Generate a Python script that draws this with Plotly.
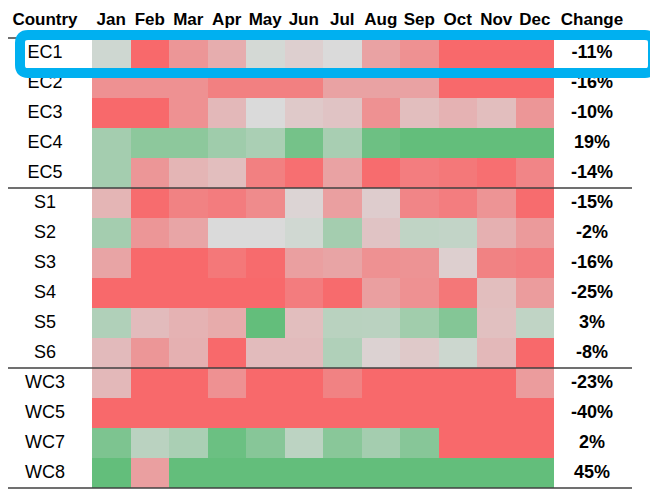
import plotly.graph_objects as go

months = ["Jan", "Feb", "Mar", "Apr", "May", "Jun", "Jul", "Aug", "Sep", "Oct", "Nov", "Dec"]
countries = ["EC1", "EC2", "EC3", "EC4", "EC5", "S1", "S2", "S3", "S4", "S5", "S6", "WC3", "WC5", "WC7", "WC8"]
group_sizes = [5, 6, 4]
highlight = "EC1"
change_labels = ["-11%", "-16%", "-10%", "19%", "-14%", "-15%", "-2%", "-16%", "-25%", "3%", "-8%", "-23%", "-40%", "2%", "45%"]

# colour-scale scores per cell (-1 = strongest decline, +1 = strongest growth)
ec1 = [0.10, -1.00, -0.60, -0.40, 0.05, -0.10, 0.00, -0.50, -0.65, -1.00, -1.00, -1.00]
ec2 = [-0.65, -0.65, -0.65, -0.80, -0.80, -0.80, -0.50, -0.50, -0.50, -1.00, -1.00, -1.00]
ec3 = [-1.00, -1.00, -0.65, -0.30, 0.00, -0.15, -0.20, -0.65, -0.25, -0.35, -0.25, -0.60]
ec4 = [0.45, 0.65, 0.65, 0.50, 0.40, 0.85, 0.42, 0.92, 1.00, 1.00, 1.00, 1.00]
ec5 = [0.45, -0.60, -0.33, -0.25, -0.80, -0.95, -0.50, -0.97, -0.82, -0.87, -0.95, -0.75]
s1 = [-0.33, -0.97, -0.78, -0.83, -0.70, -0.05, -0.52, -0.12, -0.75, -0.82, -0.62, -0.97]
s2 = [0.45, -0.60, -0.47, 0.00, 0.00, 0.08, 0.45, -0.20, 0.22, 0.20, -0.37, -0.57]
s3 = [-0.48, -1.00, -1.00, -0.87, -0.98, -0.52, -0.48, -0.65, -0.63, -0.10, -0.78, -0.82]
s4 = [-1.00, -1.00, -1.00, -1.00, -1.00, -0.83, -0.98, -0.52, -0.65, -0.88, -0.25, -0.55]
s5 = [0.35, -0.27, -0.35, -0.42, 1.00, -0.25, 0.28, 0.27, 0.48, 0.72, -0.23, 0.22]
s6 = [-0.28, -0.60, -0.37, -1.00, -0.27, -0.27, 0.35, -0.07, -0.15, 0.12, -0.30, -1.00]
wc3 = [-0.30, -1.00, -1.00, -0.65, -1.00, -1.00, -0.78, -1.00, -1.00, -1.00, -1.00, -0.55]
wc5 = [-1.00, -1.00, -1.00, -1.00, -1.00, -1.00, -1.00, -1.00, -1.00, -1.00, -1.00, -1.00]
wc7 = [0.78, 0.27, 0.40, 0.93, 0.70, 0.25, 0.68, 0.45, 0.70, -1.00, -1.00, -1.00]
wc8 = [1.00, -0.52, 1.00, 1.00, 1.00, 1.00, 1.00, 1.00, 1.00, 1.00, 1.00, 1.00]
z = [ec1, ec2, ec3, ec4, ec5, s1, s2, s3, s4, s5, s6, wc3, wc5, wc7, wc8]

FONT = "Liberation Sans, Arial, sans-serif"
PAGE_MARGIN = 8  # default body margin of the html page
W, H = 658 - PAGE_MARGIN, 489 - PAGE_MARGIN
px_per_col, px_per_row = 38.5, 30
left_px, top_px = 92 - PAGE_MARGIN, 38 - PAGE_MARGIN
x_lo = -0.5 - left_px / px_per_col
x_hi = x_lo + W / px_per_col
y_top = -0.5 - top_px / px_per_row
y_bot = y_top + H / px_per_row


def px_x(p):
    return x_lo + (p - PAGE_MARGIN) / px_per_col


label_x = px_x(45)
change_x = px_x(592)
header_y = -1.07
rows = list(range(len(countries)))

fig = go.Figure()
fig.add_trace(go.Heatmap(
    z=z, x=list(range(len(months))), y=rows,
    colorscale=[[0, "#F8696B"], [0.5, "#DADADA"], [1, "#63BE7B"]],
    zmin=-1, zmax=1, showscale=False, hoverinfo="skip",
))
# header
fig.add_trace(go.Scatter(
    x=[label_x] + list(range(len(months))) + [change_x],
    y=[header_y] * (len(months) + 2),
    text=[f"<b>{t}</b>" for t in ["Country"] + months + ["Change"]],
    mode="text", textposition="middle center",
    textfont=dict(family=FONT, size=17, color="#000"), hoverinfo="skip",
))
# row labels
fig.add_trace(go.Scatter(
    x=[label_x] * len(countries), y=rows, text=countries,
    mode="text", textposition="middle center",
    textfont=dict(family=FONT, size=18, color="#000"), hoverinfo="skip",
))
# change values
fig.add_trace(go.Scatter(
    x=[change_x] * len(countries), y=rows,
    text=[f"<b>{c}</b>" for c in change_labels],
    mode="text", textposition="middle center",
    textfont=dict(family=FONT, size=18, color="#000"), hoverinfo="skip",
))

shapes = []
line_x0 = px_x(8)
line_x1 = px_x(632)
bounds = [-0.5]
acc = -0.5
for g in group_sizes:
    acc += g
    bounds.append(acc)
for b in bounds:
    shapes.append(dict(type="line", xref="x", yref="y", x0=line_x0, x1=line_x1, y0=b, y1=b,
                       line=dict(color="#404040", width=1.6), layer="above"))

hi = countries.index(highlight)
x0 = px_x(20)
x1 = px_x(653)
y0 = hi - 0.6
y1 = hi + 0.667
rx, ry = 8 / px_per_col, 8 / px_per_row
path = (f"M {x0+rx},{y0} L {x1-rx},{y0} Q {x1},{y0} {x1},{y0+ry} L {x1},{y1-ry} "
        f"Q {x1},{y1} {x1-rx},{y1} L {x0+rx},{y1} Q {x0},{y1} {x0},{y1-ry} "
        f"L {x0},{y0+ry} Q {x0},{y0} {x0+rx},{y0} Z")
shapes.append(dict(type="path", xref="x", yref="y", path=path,
                   line=dict(color="#00B0F0", width=10), layer="above"))

fig.update_layout(
    width=W, height=H, margin=dict(l=0, r=0, t=0, b=0),
    paper_bgcolor="white", plot_bgcolor="white", showlegend=False,
    xaxis=dict(range=[x_lo, x_hi], visible=False, fixedrange=True),
    yaxis=dict(range=[y_bot, y_top], visible=False, fixedrange=True),
    shapes=shapes,
)
fig.write_html("out.html")
